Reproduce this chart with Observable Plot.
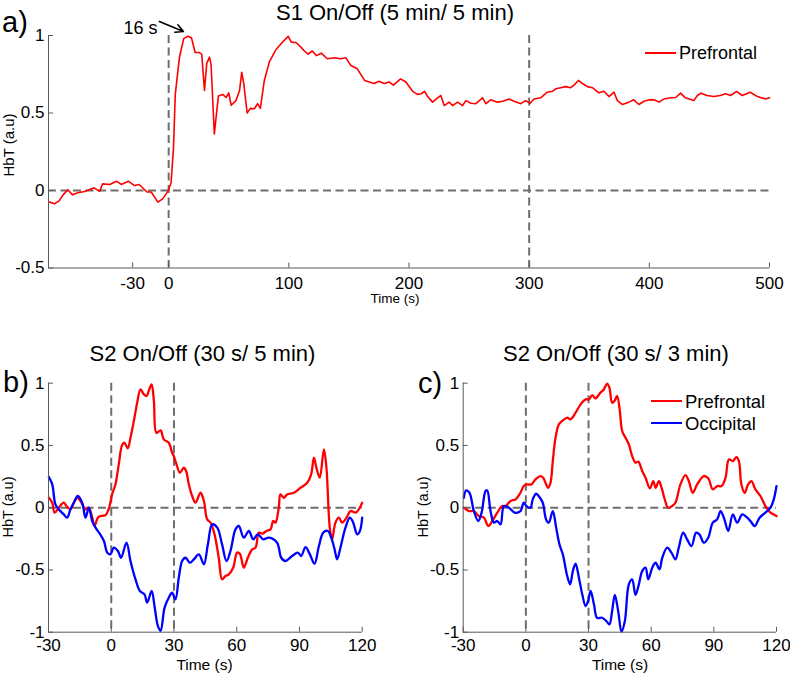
<!DOCTYPE html>
<html><head><meta charset="utf-8">
<script src="https://cdn.jsdelivr.net/npm/d3@7"></script>
<script src="https://cdn.jsdelivr.net/npm/@observablehq/plot@0.6"></script>
<style>
body{margin:0;background:#fff;}
#root{position:relative;width:790px;height:676px;overflow:hidden;background:#fff;}
</style></head><body><div id="root"></div>
<script>
// ---------- DATA ----------
// Panel a: S1 On/Off (5 min / 5 min), Prefrontal
const aTime = [
 -99,-95,-91,-88,-84,-80,-75.5,-70,-62,-57.5,
 -55,-49,-43.5,-39.5,-33.5,-28.5,-24.5,-18,-14.5,-9,
 -5,-0.5,2,4,5.5,9,12.5,16,19,22,
 25.5,27.5,29.8,31.7,34,35.3,38,41.4,45,47.8,
 50,52,56,59,60.8,62.5,65.3,68,71.3,74,
 76.3,79.6,83.8,89.4,95,99.5,102,106,110,113,
 116,119.5,123,127,132,138,143,147.5,151.7,157,
 163,167,171,175,179.4,183.5,187,193,197.4,203,
 207,210,213,215.5,219.6,223.8,226.5,229.3,233.4,236.2,
 240.4,244.6,247.3,251.5,255.6,261.2,264,268,273.6,278,
 283.3,287.5,293,297,300.8,304,309.6,315,319.4,322,
 326.3,330.4,334.6,337.3,341,344.3,348.5,352.6,358,362.3,
 366.4,370.6,373.4,377.5,383,387,391.3,395.5,400,404,
 408,412,417.7,422,426,430,437,440,443,448,
 453.7,459,463.4,467.6,472.6,477.3,484,490,496.7,500];
const aPrefrontal = [
 -0.075,-0.086,-0.065,-0.03,0.005,-0.028,-0.015,-0.006,0.017,-0.006,
 0.043,0.039,0.06,0.039,0.06,0.032,0.039,-0.01,-0.01,-0.075,
 -0.054,-0.004,0.05,0.27,0.62,0.86,0.98,0.995,0.985,0.89,
 0.89,0.88,0.645,0.82,0.86,0.81,0.365,0.61,0.62,0.6,
 0.63,0.55,0.58,0.645,0.763,0.69,0.5,0.53,0.527,0.56,
 0.53,0.71,0.83,0.91,0.96,0.994,0.957,0.955,0.925,0.9,
 0.88,0.9,0.87,0.886,0.85,0.856,0.85,0.856,0.806,0.785,
 0.71,0.7,0.69,0.705,0.69,0.7,0.68,0.72,0.7,0.64,
 0.62,0.624,0.64,0.606,0.57,0.598,0.613,0.548,0.57,0.548,
 0.57,0.548,0.58,0.563,0.56,0.598,0.56,0.585,0.57,0.576,
 0.59,0.576,0.56,0.58,0.563,0.59,0.598,0.634,0.64,0.656,
 0.663,0.67,0.663,0.68,0.71,0.69,0.67,0.663,0.63,0.64,
 0.606,0.634,0.58,0.555,0.57,0.585,0.555,0.576,0.585,0.585,
 0.57,0.59,0.598,0.6,0.628,0.598,0.58,0.613,0.628,0.613,
 0.606,0.613,0.624,0.613,0.64,0.613,0.634,0.606,0.59,0.598];

// Panel b: S2 On/Off (30 s / 5 min)
const bTimePre = [-29.8,-28.2,-27.1,-25.1,-22.7,-21.4,-19.5,-17.9,-16.3,-14.7,-12.3,-10.7,-9.1,-8,-6.4,-5.1,-2.7,-1.1,0.4,2,3.6,5.2,6.3,7.9,9.2,11.1,12.4,14,15.6,16.9,18,19.3,20.4,21.6,23.6,25.1,27.5,29.1,29.9,31.2,32.8,34.7,35.8,37.1,38.7,40.3,42.7,44.3,45.9,47.5,49.4,51.4,53,54.6,56.2,58.3,60.2,61.5,63.4,65.3,67.4,69,70.6,72.2,74.2,76.2,77.4,78.5,80.1,80.9,82.5,84.1,87.3,90.5,93.7,95.6,96.9,98.1,99.7,101.7,102.9,104.5,105.6,107.2,108.8,110.4,112.5,114.4,116.8,118.4,120];
const bPrefrontal = [0.08,0.04,-0.04,0,0.04,0.013,-0.013,0.04,0.08,0.054,-0.013,0,-0.08,-0.147,-0.08,-0.067,-0.059,-0.005,0.107,0.187,0.348,0.503,0.522,0.477,0.562,0.723,0.843,0.95,0.91,0.897,0.942,0.99,0.857,0.602,0.621,0.549,0.522,0.442,0.415,0.348,0.281,0.321,0.295,0.187,0.094,0.04,0.12,0.054,-0.094,-0.12,-0.214,-0.402,-0.576,-0.549,-0.535,-0.482,-0.361,-0.37,-0.482,-0.402,-0.335,-0.321,-0.2,-0.209,-0.187,-0.174,-0.107,-0.12,0,0.107,0.08,0.107,0.12,0.16,0.2,0.268,0.402,0.321,0.241,0.469,0.321,-0.16,-0.254,-0.12,-0.08,-0.12,-0.08,-0.027,-0.04,-0.013,0.04];
const bTimeOcc = [-29.8,-28.2,-26.7,-25.1,-22.7,-21.1,-19.5,-17.9,-16,-13.9,-12.3,-10.7,-9.1,-7.5,-5.5,-3.5,-1.9,-0.4,1.2,3.2,4.7,7.3,9.2,11.6,13.7,15.9,17.2,19.3,20.8,22.3,23.6,25.5,27.5,29.1,30.7,32.3,33.9,35.5,37.6,39.5,41.9,44.3,46.2,48.3,50.7,53,55.1,57,59.4,61,63.4,65.8,67.9,70.1,72.6,75.4,79.3,81.3,83.3,86.5,89.2,90.8,92.9,95,97.2,99.3,101.4,103.6,105.2,106.8,108,109.6,112,114.1,115.7,117.6,118.9,120];
const bOccipital = [0.246,0.187,0.027,-0.013,-0.054,-0.08,-0.013,0.04,0.094,0.04,-0.08,0,-0.107,-0.16,-0.209,-0.268,-0.361,-0.375,-0.321,-0.348,-0.402,-0.281,-0.428,-0.576,-0.669,-0.696,-0.763,-0.669,-0.803,-0.95,-0.99,-0.803,-0.723,-0.683,-0.736,-0.562,-0.428,-0.402,-0.442,-0.415,-0.375,-0.455,-0.295,-0.134,-0.16,-0.295,-0.428,-0.348,-0.174,-0.147,-0.241,-0.187,-0.254,-0.214,-0.254,-0.241,-0.281,-0.402,-0.428,-0.388,-0.361,-0.388,-0.316,-0.375,-0.45,-0.308,-0.2,-0.187,-0.241,-0.335,-0.415,-0.321,-0.16,-0.08,-0.12,-0.214,-0.187,-0.08];

// Panel c: S2 On/Off (30 s / 3 min)
const cTimePre = [-29.7,-27.3,-24.9,-22.5,-20.1,-18,-16.1,-13.7,-11.3,-9.7,-7.3,-4.9,-2.6,-1,0.6,2.7,4.6,7,8.3,9.4,10.7,11.8,12.9,14.2,15.8,17.7,19.8,21.4,23.8,26.2,28.6,30.2,31.8,33.3,35.7,37.3,38.9,40,41.3,42.6,43.7,45,46.1,47.7,49.3,50.9,52.5,53.8,55.7,57.3,59.4,61,62.1,63.7,65,66.5,68.1,70,71.6,74,76.4,78,79.9,82,85.2,87.3,89.5,91.6,93.7,95.6,97.2,99.1,100.8,102,103.2,104.8,106.4,108,109.9,112.3,114.7,117.1,118.7,120];
const cPrefrontal = [0,-0.027,-0.027,-0.067,-0.08,-0.147,-0.107,-0.04,0.013,0.013,0.054,0.067,0.12,0.174,0.187,0.187,0.228,0.254,0.241,0.2,0.16,0.2,0.375,0.562,0.669,0.701,0.723,0.71,0.763,0.83,0.87,0.87,0.905,0.878,0.924,0.95,0.996,0.964,0.843,0.862,0.897,0.776,0.616,0.562,0.509,0.415,0.361,0.37,0.295,0.241,0.155,0.214,0.16,0.214,0.16,0.067,0,0.013,0.04,0.187,0.262,0.214,0.12,0.187,0.254,0.236,0.147,0.174,0.174,0.241,0.388,0.375,0.407,0.375,0.187,0.12,0.187,0.214,0.147,0.094,0.013,-0.04,-0.054,-0.067];
const cTimeOcc = [-29.7,-28.6,-27,-24.9,-22.8,-21.2,-19.3,-18.5,-16.9,-15.3,-13.7,-12.1,-10.5,-8.1,-5.3,-2.6,-1,0.3,2.2,3.3,4.9,6.5,8.1,9.7,11,12.9,14.5,16.1,17.7,19.8,21.2,22.5,23.8,25.4,27,28.6,29.8,31,32.6,34.1,36.5,38.5,40,41.3,42.6,44.2,45.8,47.4,49.3,50.9,52.5,54.1,55.7,57.3,58.6,60.5,62.1,64,65.3,67.7,69.7,71.6,73.2,75.3,77.2,79.3,81.5,83.1,85.2,87.3,89.5,91.6,93.2,94.8,96.9,99.1,101.2,103.6,106,107.5,109.6,111.9,114.7,117.1,118.7,120];
const cOccipital = [0.08,0.139,0.12,-0.027,-0.107,-0.04,0.134,0.139,-0.027,-0.12,-0.107,-0.134,0.013,0,-0.04,-0.027,0.04,0.013,0,0.067,0.112,0.086,0.04,-0.094,-0.12,-0.027,-0.16,-0.295,-0.375,-0.549,-0.616,-0.509,-0.45,-0.562,-0.696,-0.79,-0.75,-0.669,-0.776,-0.884,-0.884,-0.91,-0.937,-0.83,-0.701,-0.83,-0.996,-0.91,-0.616,-0.576,-0.701,-0.616,-0.509,-0.482,-0.576,-0.482,-0.442,-0.495,-0.402,-0.321,-0.361,-0.415,-0.321,-0.2,-0.254,-0.308,-0.2,-0.214,-0.281,-0.241,-0.12,-0.094,-0.027,-0.08,-0.187,-0.054,-0.12,-0.054,-0.08,-0.107,-0.147,-0.08,-0.04,0,0.067,0.174];

// Axis ticks and reference lines
const aXTicks = [-30, 0, 100, 200, 300, 400, 500];
const aYTicks = [-0.5, 0, 0.5, 1];
const aStimLines = [0, 300];
const bcXTicks = [-30, 0, 30, 60, 90, 120];
const bcYTicks = [-1, -0.5, 0, 0.5, 1];
const bcStimLines = [0, 30];

// Annotation in panel a ("16 s" peak marker)
const annoLabel = "16 s";
const annoLabelPos = [-23.5, 1.045];
const annoArrowFrom = [-7.7, 1.09];
const annoArrowTo = [12.3, 1.026];

// ---------- DRAWING ----------
const FONT = '"Liberation Sans", Arial, Helvetica, sans-serif';
const RED = "#ff0000", BLUE = "#0000ff";
const DASH = "#6e6e6e", AXIS = "#5a5a5a";
const root = document.getElementById("root");

function series(t, v) {
  const n = Math.min(t.length, v.length);
  return d3.range(n).map(i => ({t: t[i], v: v[i]}));
}

function panel(o) {
  const innerH = o.height - o.marginTop - o.marginBottom;
  const innerW = o.width - o.marginLeft - o.marginRight;
  const ky = (o.yDomain[1] - o.yDomain[0]) * 5 / innerH;
  const kx = (o.xDomain[1] - o.xDomain[0]) * 5 / innerW;
  const dashed = {stroke: DASH, strokeWidth: 2, strokeDasharray: "8,4.5"};
  const marks = [
    Plot.ruleY([0], dashed),
    Plot.ruleX(o.vlines, dashed),
    ...o.lines.map(l => Plot.line(l.data, {x: "t", y: "v", stroke: l.color, strokeWidth: o.strokeWidth, curve: o.curve})),
    Plot.ruleY([o.yDomain[0]], {stroke: AXIS, strokeWidth: 1}),
    Plot.ruleX([o.xDomain[0]], {stroke: AXIS, strokeWidth: 1}),
    Plot.ruleX(o.xTicks, {y1: o.yDomain[0], y2: o.yDomain[0] + ky, stroke: AXIS}),
    Plot.ruleY(o.yTicks, {x1: o.xDomain[0], x2: o.xDomain[0] + kx, stroke: AXIS}),
    Plot.axisX({ticks: o.xTicks, tickSize: 0, tickPadding: o.padX, tickFormat: d => String(d), label: null, fontSize: o.tickFont}),
    Plot.axisY({ticks: o.yTicks, tickSize: 0, tickPadding: o.padY, tickFormat: d => String(d), label: null, fontSize: o.tickFont}),
    ...(o.extra || [])
  ];
  const svg = Plot.plot({
    width: o.width, height: o.height,
    marginLeft: o.marginLeft, marginRight: o.marginRight,
    marginTop: o.marginTop, marginBottom: o.marginBottom,
    x: {domain: o.xDomain}, y: {domain: o.yDomain},
    style: {fontFamily: FONT, fontSize: "17px", background: "transparent", color: "#000", overflow: "visible"},
    marks
  });
  svg.style.position = "absolute";
  svg.style.left = o.left + "px";
  svg.style.top = o.top + "px";
  svg.style.maxWidth = "none";
  root.appendChild(svg);
  return svg;
}

// Panel a
panel({
  left: 0, top: 0, width: 790, height: 330,
  marginLeft: 48, marginRight: 21, marginTop: 35, marginBottom: 62.5,
  xDomain: [-100, 500], yDomain: [-0.5, 1],
  xTicks: aXTicks, yTicks: aYTicks, vlines: aStimLines,
  padX: 9, padY: 4, tickFont: 17, strokeWidth: 1.6, curve: "linear",
  lines: [{data: series(aTime, aPrefrontal), color: RED}],
  extra: [
    Plot.arrow([{x1: annoArrowFrom[0], y1: annoArrowFrom[1], x2: annoArrowTo[0], y2: annoArrowTo[1]}],
      {x1: "x1", y1: "y1", x2: "x2", y2: "y2", stroke: "#000", strokeWidth: 1.6, headLength: 9, headAngle: 55}),
    Plot.text([{x: annoLabelPos[0], y: annoLabelPos[1], s: annoLabel}],
      {x: "x", y: "y", text: "s", fontSize: 18, textAnchor: "middle", fill: "#000"})
  ]
});

// Panel b
panel({
  left: 0, top: 340, width: 390, height: 336,
  marginLeft: 48, marginRight: 28.3, marginTop: 42.7, marginBottom: 44.3,
  xDomain: [-30, 120], yDomain: [-1, 1],
  xTicks: bcXTicks, yTicks: bcYTicks, vlines: bcStimLines,
  padX: 7, padY: 4, tickFont: 17, strokeWidth: 2.3, curve: "catmull-rom",
  lines: [{data: series(bTimePre, bPrefrontal), color: RED}, {data: series(bTimeOcc, bOccipital), color: BLUE}]
});

// Panel c
panel({
  left: 390, top: 340, width: 400, height: 336,
  marginLeft: 72.7, marginRight: 14, marginTop: 42.7, marginBottom: 44.3,
  xDomain: [-30, 120], yDomain: [-1, 1],
  xTicks: bcXTicks, yTicks: bcYTicks, vlines: bcStimLines,
  padX: 7, padY: 4, tickFont: 17, strokeWidth: 2.3, curve: "catmull-rom",
  lines: [{data: series(cTimePre, cPrefrontal), color: RED}, {data: series(cTimeOcc, cOccipital), color: BLUE}]
});

// ---------- TEXT OVERLAY (titles, panel letters, axis labels, legends) ----------
const ov = d3.select(root).append("svg")
  .attr("width", 790).attr("height", 676)
  .style("position", "absolute").style("left", "0px").style("top", "0px")
  .style("pointer-events", "none")
  .attr("font-family", FONT).attr("fill", "#000");

const texts = [
  {s: "a)", x: 2, y: 32, size: 29, anchor: "start"},
  {s: "S1 On/Off (5 min/ 5 min)", x: 395, y: 19.5, size: 22, anchor: "middle"},
  {s: "Time (s)", x: 395, y: 303, size: 13.5, anchor: "middle"},
  {s: "HbT (a.u)", x: 14, y: 145, size: 15, anchor: "middle", rot: true},
  {s: "b)", x: 3, y: 391.5, size: 29, anchor: "start"},
  {s: "S2 On/Off (30 s/ 5 min)", x: 202.5, y: 360.5, size: 22, anchor: "middle"},
  {s: "Time (s)", x: 204.5, y: 670, size: 15.5, anchor: "middle"},
  {s: "HbT (a.u)", x: 13, y: 507, size: 14.5, anchor: "middle", rot: true},
  {s: "c)", x: 418, y: 392.5, size: 29, anchor: "start"},
  {s: "S2 On/Off (30 s/ 3 min)", x: 616, y: 361, size: 22, anchor: "middle"},
  {s: "Time (s)", x: 620, y: 670, size: 15.5, anchor: "middle"},
  {s: "HbT (a.u)", x: 427.5, y: 507, size: 14.5, anchor: "middle", rot: true}
];
texts.forEach(t => {
  const el = ov.append("text").text(t.s)
    .attr("font-size", t.size).attr("text-anchor", t.anchor);
  if (t.rot) el.attr("transform", `translate(${t.x},${t.y}) rotate(-90)`);
  else el.attr("x", t.x).attr("y", t.y);
});

// Legends
const legends = [
  {x1: 645, x2: 676, y: 53, label: "Prefrontal", color: RED, size: 18},
  {x1: 651, x2: 682, y: 401, label: "Prefrontal", color: RED, size: 18.5},
  {x1: 651, x2: 682, y: 423, label: "Occipital", color: BLUE, size: 18.5}
];
legends.forEach(l => {
  ov.append("line").attr("x1", l.x1).attr("x2", l.x2).attr("y1", l.y).attr("y2", l.y)
    .attr("stroke", l.color).attr("stroke-width", 2);
  ov.append("text").text(l.label).attr("x", l.x2 + 3).attr("y", l.y + 0.36 * l.size)
    .attr("font-size", l.size);
});
</script></body></html>
